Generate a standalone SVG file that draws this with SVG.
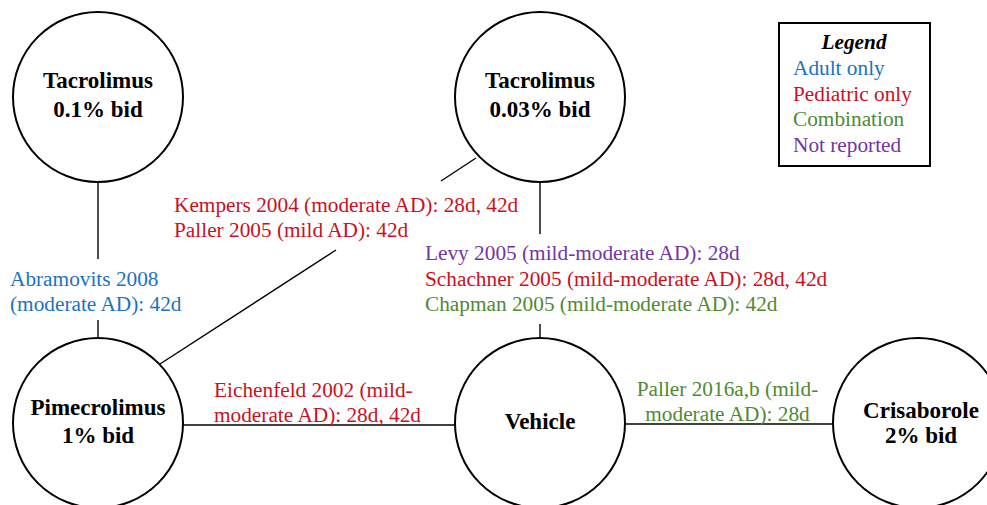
<svg xmlns="http://www.w3.org/2000/svg" width="987" height="505" viewBox="0 0 987 505">
<style>
.node{fill:#fff;stroke:#000;stroke-width:2}
.nt{font-family:"Liberation Serif","Times New Roman",serif;font-weight:bold;font-size:23px;text-anchor:middle;fill:#000}
.edge{stroke:#000;stroke-width:1.4;fill:none}
.lb{font-family:"Liberation Serif","Times New Roman",serif;font-size:21.3px}
.adult{fill:#1a72c4}
.ped{fill:#cc1020}
.comb{fill:#4f8a32}
.nr{fill:#7335a8}
</style>
<rect width="987" height="505" fill="#fff"/>
<g id="connectors">
<line class="edge" x1="98" y1="182" x2="98" y2="259"/>
<line class="edge" x1="98" y1="320" x2="98" y2="338"/>
<line class="edge" x1="540" y1="182" x2="540" y2="234"/>
<line class="edge" x1="540" y1="324" x2="540" y2="338"/>
<line class="edge" x1="476" y1="158" x2="441" y2="181"/>
<line class="edge" x1="336" y1="250" x2="160" y2="364"/>
<line class="edge" x1="183" y1="425" x2="455" y2="425"/>
<line class="edge" x1="625" y1="424" x2="833" y2="424"/>
<text class="lb ped" x="174" y="212">Kempers 2004 (moderate AD): 28d, 42d</text>
<text class="lb ped" x="174" y="237">Paller 2005 (mild AD): 42d</text>
<text class="lb adult" x="10" y="286">Abramovits 2008</text>
<text class="lb adult" x="10" y="311">(moderate AD): 42d</text>
<text class="lb nr" x="425" y="260">Levy 2005 (mild-moderate AD): 28d</text>
<text class="lb ped" x="425" y="285.5">Schachner 2005 (mild-moderate AD): 28d, 42d</text>
<text class="lb comb" x="425" y="311">Chapman 2005 (mild-moderate AD): 42d</text>
<text class="lb ped" x="214" y="396.5">Eichenfeld 2002 (mild-</text>
<text class="lb ped" x="214" y="421.5">moderate AD): 28d, 42d</text>
<text class="lb comb" x="727.5" y="396" text-anchor="middle">Paller 2016a,b (mild-</text>
<text class="lb comb" x="727.5" y="421" text-anchor="middle">moderate AD): 28d</text>
</g>
<g id="tac01">
<circle class="node" cx="98" cy="97" r="85"/>
<text class="nt" x="98" y="88">Tacrolimus</text>
<text class="nt" x="98" y="116.5">0.1% bid</text>
</g>
<g id="tac003">
<circle class="node" cx="540" cy="97" r="85"/>
<text class="nt" x="540" y="88">Tacrolimus</text>
<text class="nt" x="540" y="116.5">0.03% bid</text>
</g>
<g id="pime">
<circle class="node" cx="98" cy="423" r="85"/>
<text class="nt" x="98" y="415">Pimecrolimus</text>
<text class="nt" x="98" y="443">1% bid</text>
</g>
<g id="vehicle">
<circle class="node" cx="540" cy="423" r="85"/>
<text class="nt" x="540" y="429">Vehicle</text>
</g>
<g id="crisa">
<circle class="node" cx="918" cy="423" r="85"/>
<text class="nt" x="921" y="418">Crisaborole</text>
<text class="nt" x="921" y="443">2% bid</text>
</g>
<g id="legend">
<rect x="779" y="23" width="151" height="143" fill="#fff" stroke="#000" stroke-width="2"/>
<text class="lb" x="854" y="49" text-anchor="middle" font-weight="bold" font-style="italic" fill="#000">Legend</text>
<text class="lb adult" x="793" y="75">Adult only</text>
<text class="lb ped" x="793" y="100.5">Pediatric only</text>
<text class="lb comb" x="793" y="126">Combination</text>
<text class="lb nr" x="793" y="151.5">Not reported</text>
</g>
</svg>
